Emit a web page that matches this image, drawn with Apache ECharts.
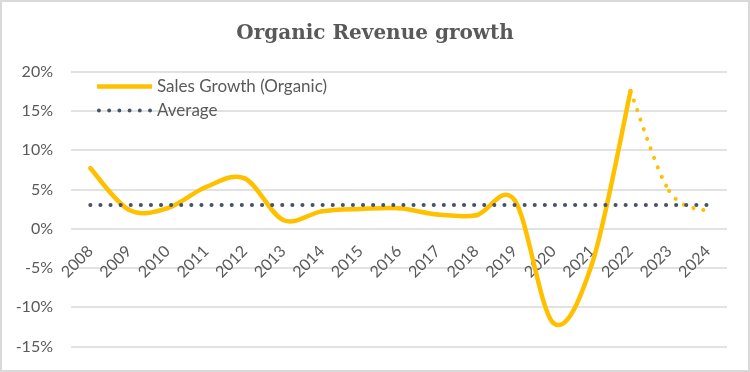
<!DOCTYPE html>
<html>
<head>
<meta charset="utf-8">
<script src="https://cdn.jsdelivr.net/npm/echarts@6/dist/echarts.min.js"></script>
<style>
html,body{margin:0;padding:0;background:#fff;}
#main{width:750px;height:372px;}
</style>
</head>
<body>
<div id="main"></div>
<script>
const years = ['2008','2009','2010','2011','2012','2013','2014','2015','2016','2017','2018','2019','2020','2021','2022','2023','2024'];
const salesGrowth = [7.7, 2.4, 2.6, 5.3, 6.4, 1.1, 2.2, 2.5, 2.6, 1.8, 1.7, 3.6, -12.0, -4.5, 17.5, null, null];
const salesForecast = [null, null, null, null, null, null, null, null, null, null, null, null, null, null, 17.5, 4.8, 2.2];
const average = [3, 3, 3, 3, 3, 3, 3, 3, 3, 3, 3, 3, 3, 3, 3, 3, 3];
const yTicks = {min: -15, max: 20, interval: 5};

const YELLOW = '#FFC000';
const NAVY = '#44546A';
const gray = '#595959';

const W = 750, H = 372;
const gridBox = {left: 71, right: 23, top: 71.5, bottom: 25.5};
const plotH = H - gridBox.top - gridBox.bottom;
// place the category axis (and its labels) on the 0% line, like the original
const zeroOffset = -plotH * (0 - yTicks.min) / (yTicks.max - yTicks.min);

// Smoothed curve (Excel-like Catmull-Rom Bezier) drawn through the axis scales
function makeCurve(values, width, dash) {
  return function (params, api) {
    const i = params.dataIndex;
    const ok = k => k >= 0 && k < values.length && values[k] !== null && values[k] !== undefined;
    if (!ok(i) || !ok(i + 1)) return;
    const P = k => api.coord([k, values[k]]);
    const p1 = P(i), p2 = P(i + 1);
    const p0 = ok(i - 1) ? P(i - 1) : p1;
    const p3 = ok(i + 2) ? P(i + 2) : p2;
    const style = {fill: 'none', stroke: YELLOW, lineWidth: width, lineCap: 'round', lineJoin: 'round'};
    if (dash) style.lineDash = dash;
    return {
      type: 'bezierCurve',
      shape: {
        x1: p1[0], y1: p1[1], x2: p2[0], y2: p2[1],
        cpx1: p1[0] + (p2[0] - p0[0]) / 6, cpy1: p1[1] + (p2[1] - p0[1]) / 6,
        cpx2: p2[0] - (p3[0] - p1[0]) / 6, cpy2: p2[1] - (p3[1] - p1[1]) / 6
      },
      style: style
    };
  };
}

const dotsIcon = 'path://' + [0, 1, 2, 3, 4, 5].map(k => {
  const cx = 2 + k * 10.4;
  return 'M' + (cx - 2) + ',2 a2,2 0 1,0 4,0 a2,2 0 1,0 -4,0';
}).join(' ');
const barIcon = 'path://M0,0 L55,0 L55,4.5 L0,4.5 Z';

const chart = echarts.init(document.getElementById('main'), null, {renderer: 'canvas'});
chart.setOption({
  backgroundColor: '#fff',
  animation: false,
  title: {
    text: 'Organic Revenue growth',
    left: 'center',
    top: 19,
    textStyle: {fontFamily: 'DejaVu Serif', fontWeight: 'bold', fontSize: 20, color: gray}
  },
  graphic: [{
    type: 'rect', shape: {x: 1, y: 1, width: 748, height: 370},
    style: {fill: 'none', stroke: '#d9d9d9', lineWidth: 2}, silent: true, z: 100
  }],
  legend: {
    orient: 'vertical',
    left: 92,
    top: 73,
    itemWidth: 55,
    itemHeight: 14,
    itemGap: 7,
    symbolKeepAspect: true,
    data: [
      {name: 'Sales Growth (Organic)', icon: barIcon},
      {name: 'Average', icon: dotsIcon}
    ],
    textStyle: {fontFamily: 'Lato', fontSize: 17, color: gray, lineHeight: 14}
  },
  grid: {left: gridBox.left, right: gridBox.right, top: gridBox.top, bottom: gridBox.bottom, outerBoundsMode: 'none', containLabel: false},
  xAxis: {
    type: 'category',
    data: years,
    boundaryGap: true,
    offset: zeroOffset,
    axisLine: {show: false, onZero: false},
    axisTick: {show: false},
    axisLabel: {rotate: 45, margin: 20, fontFamily: 'Lato', fontSize: 16, color: gray, interval: 0}
  },
  yAxis: {
    type: 'value',
    min: yTicks.min, max: yTicks.max, interval: yTicks.interval,
    axisLine: {show: false},
    axisTick: {show: false},
    splitLine: {lineStyle: {color: '#d9d9d9', width: 1.5}},
    axisLabel: {formatter: '{value}%', margin: 18, fontFamily: 'Lato', fontSize: 16, color: gray}
  },
  series: [
    {
      name: 'Sales Growth (Organic)', type: 'custom',
      data: salesGrowth.map((v, i) => [i, v]),
      encode: {x: 0, y: 1},
      renderItem: makeCurve(salesGrowth, 4.5, null),
      itemStyle: {color: YELLOW}, z: 3, silent: true
    },
    {
      name: 'Forecast', type: 'custom',
      data: salesForecast.map((v, i) => [i, v]),
      encode: {x: 0, y: 1},
      renderItem: makeCurve(salesForecast, 4, [0.1, 10]),
      itemStyle: {color: YELLOW}, z: 3, silent: true
    },
    {
      name: 'Average', type: 'line', data: average,
      symbol: 'none',
      lineStyle: {color: NAVY, width: 4, type: [0.1, 10], cap: 'round'},
      itemStyle: {color: NAVY}, z: 4, silent: true
    }
  ]
});
</script>
</body>
</html>
